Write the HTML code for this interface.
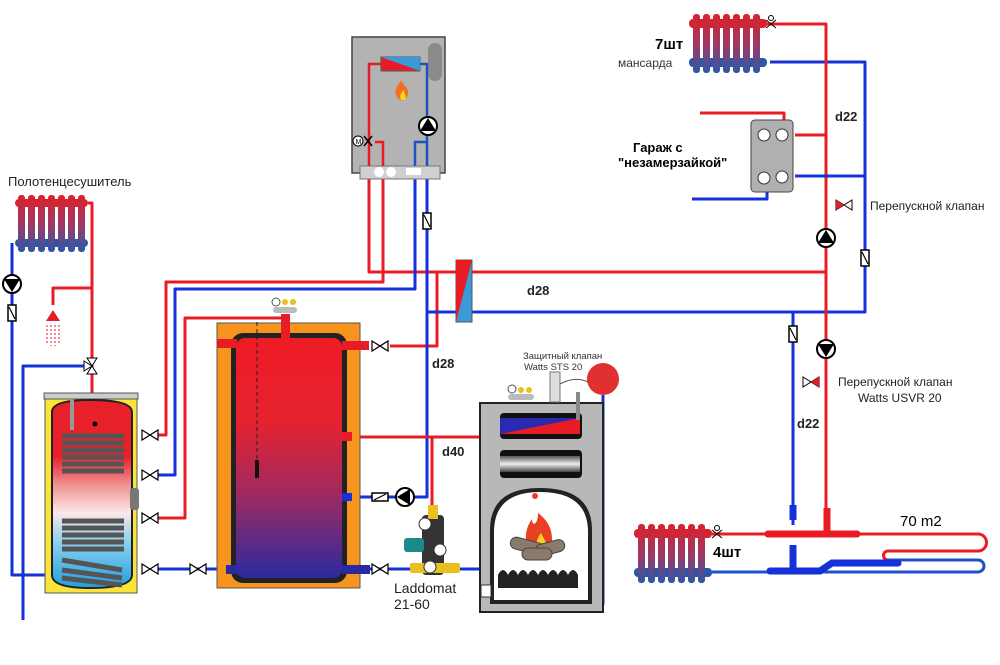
<!DOCTYPE html>
<html><head><meta charset="utf-8"><style>
html,body{margin:0;padding:0;background:#fff;width:1000px;height:665px;overflow:hidden}
svg{display:block}
text{font-family:"Liberation Sans","Noto Sans CJK SC",sans-serif}
</style></head><body>
<svg width="1000" height="665" viewBox="0 0 1000 665" xmlns="http://www.w3.org/2000/svg">
<defs>
<linearGradient id="rad" x1="0" y1="0" x2="0" y2="1"><stop offset="0" stop-color="#d9222a"/><stop offset="0.55" stop-color="#9a3a6a"/><stop offset="1" stop-color="#2a58a8"/></linearGradient>
<linearGradient id="buf" x1="0" y1="0" x2="0" y2="1"><stop offset="0" stop-color="#ee1c25"/><stop offset="0.35" stop-color="#e52230"/><stop offset="0.65" stop-color="#a02a60"/><stop offset="1" stop-color="#2a2aa0"/></linearGradient>
<linearGradient id="dhw" x1="0" y1="0" x2="0" y2="1"><stop offset="0" stop-color="#e8202a"/><stop offset="0.3" stop-color="#e8202a"/><stop offset="0.45" stop-color="#f09090"/><stop offset="0.6" stop-color="#fbe8e8"/><stop offset="0.75" stop-color="#8fd0f0"/><stop offset="1" stop-color="#1ea0e0"/></linearGradient>
<linearGradient id="metal" x1="0" y1="0" x2="0" y2="1"><stop offset="0" stop-color="#555"/><stop offset="0.5" stop-color="#eee"/><stop offset="1" stop-color="#444"/></linearGradient>
<g id="valve"><path d="M-8,-5 L8,5 L8,-5 L-8,5 Z" fill="#fff" stroke="#000" stroke-width="1.2"/></g>
<g id="pump"><circle r="9" fill="#fff" stroke="#000" stroke-width="2"/><path d="M0,-8 L8,5 L-8,5 Z" fill="#000"/></g>
<g id="pumpd"><circle r="9" fill="#fff" stroke="#000" stroke-width="2"/><path d="M0,8 L8,-5 L-8,-5 Z" fill="#000"/></g>
<g id="chk"><rect x="-4" y="-8" width="8" height="16" fill="#fff" stroke="#000" stroke-width="1.5"/><path d="M-3,-6 L3,6" stroke="#000" stroke-width="1.2"/></g>
<g id="chkh"><rect x="-8" y="-4" width="16" height="8" fill="#fff" stroke="#000" stroke-width="1.5"/><path d="M-6,3 L6,-3" stroke="#000" stroke-width="1.2"/></g>
</defs>

<g fill="none" stroke-width="3" stroke-linejoin="round">
<path d="M369,178 V272 H826" stroke="#e81c24"/>
<path d="M383,178 V282 H166 V435 H158" stroke="#e81c24"/>
<path d="M437,272 V346 H390" stroke="#e81c24"/>
<path d="M158,518 H185 V318 H285 V325" stroke="#e81c24"/>
<path d="M415,178 V289 H175 V475 H158" stroke="#1432d8"/>
<path d="M427,178 V312 H865 V62 H770" stroke="#1432d8"/>
<path d="M427,312 V497 H412" stroke="#1432d8"/>
<path d="M396,497 H347" stroke="#1432d8"/>
<path d="M347,437 H480" stroke="#e81c24"/>
<path d="M432,437 V510" stroke="#e81c24"/>
<path d="M158,569 H230" stroke="#1432d8"/>
<path d="M347,569 H480" stroke="#1432d8"/>
<path d="M603,395 V604 H596" stroke="#1432d8"/>
<path d="M765,24 H826 V530" stroke="#e81c24"/>
<path d="M793,312 V525" stroke="#1432d8"/>
<path d="M795,135 H826" stroke="#e81c24"/>
<path d="M784,128 V113 H700" stroke="#e81c24"/>
<path d="M795,176 H865" stroke="#1432d8"/>
<path d="M767,180 V199 H692" stroke="#1432d8"/>
<path d="M712,534 H978 a8.5,8.5 0 0 1 0,17 H888 a4.5,4.5 0 0 0 0,9" stroke="#e81c24"/>
<path d="M888,560 H978 a6,6 0 0 1 0,12 H712" stroke="#2050c8"/>
<path d="M88,203 H92 V393" stroke="#e81c24"/>
<path d="M92,288 H53 V305" stroke="#e81c24"/>
<path d="M12,243 V575 H45" stroke="#1432d8"/>
<path d="M86,366 H23 V620" stroke="#1432d8"/>
</g>
<path d="M768,534 H857" stroke="#e81c24" stroke-width="7" stroke-linecap="round"/>
<path d="M827,508 V534" stroke="#e81c24" stroke-width="7"/>
<path d="M770,571 H820 L832,563 H898" stroke="#1432d8" stroke-width="7" stroke-linecap="round" fill="none"/>
<path d="M793,505 V520 M793,545 V571" stroke="#1432d8" stroke-width="7"/>

<rect x="352" y="37" width="93" height="136" fill="#b3b3b3" stroke="#444" stroke-width="1.5"/>
<rect x="428" y="43" width="14" height="38" rx="7" fill="#8a8a8a"/>
<rect x="360" y="166" width="80" height="13" fill="#d0d0d0" stroke="#777"/>
<circle cx="379" cy="172" r="5" fill="#fff"/><circle cx="391" cy="172" r="5" fill="#fff"/>
<rect x="406" y="168" width="15" height="7" fill="#fff"/>
<path d="M369,166 V64 H381" fill="none" stroke-width="2.5" stroke="#e81c24"/>
<path d="M383,166 V142 H375" fill="none" stroke-width="2.5" stroke="#e81c24"/>
<path d="M427,166 V64 H420" fill="none" stroke-width="2.5" stroke="#2050c0"/>
<path d="M415,166 V142 H427" fill="none" stroke-width="2.5" stroke="#2050c0"/>
<rect x="381" y="57" width="39" height="14" fill="#e81c24" stroke="#555"/>
<path d="M381,57 H420 V71 Z" fill="#3a9ad8"/>
<path d="M400,100 c-8,-6 -4,-14 2,-20 c0,6 6,6 6,12 c0,6 -4,10 -8,8z" fill="#f07020"/>
<path d="M401,100 c-2,-4 0,-8 3,-10 c0,4 3,6 1,10z" fill="#ffd020"/>
<use href="#pump" x="428" y="126"/>
<circle cx="358" cy="141" r="5" fill="#fff" stroke="#000"/><text x="355.5" y="144" font-size="7">M</text>
<path d="M364,136 L372,146 M364,146 L372,136" stroke="#000" stroke-width="1.5"/>
<use href="#chk" x="427" y="221"/>

<rect x="456" y="260" width="16" height="62" fill="#3a9ad8" stroke="#555"/>
<path d="M456,260 H472 L456,322 Z" fill="#e81c24"/>

<rect x="217" y="323" width="143" height="265" fill="#f7941d" stroke="#555"/>
<rect x="231" y="333" width="116" height="250" rx="12" fill="#222"/>
<rect x="236" y="338" width="106" height="240" rx="9" fill="url(#buf)"/>
<rect x="217" y="339" width="20" height="9" fill="#e81c24"/>
<rect x="342" y="341" width="27" height="9" fill="#e81c24"/>
<rect x="342" y="432" width="10" height="9" fill="#e81c24"/>
<rect x="342" y="493" width="10" height="8" fill="#1432d8"/>
<rect x="226" y="565" width="12" height="9" fill="#2a2aa0"/>
<rect x="342" y="565" width="28" height="9" fill="#2a2aa0"/>
<rect x="281" y="314" width="9" height="25" fill="#e81c24"/>
<path d="M257,322 V470" stroke="#222" stroke-dasharray="4,3"/>
<rect x="255" y="460" width="4" height="18" fill="#111"/>
<rect x="273" y="307" width="24" height="6" rx="3" fill="#bbb"/>
<circle cx="276" cy="302" r="4" fill="#fff" stroke="#555"/><circle cx="285" cy="302" r="3" fill="#e8c020"/><circle cx="293" cy="302" r="3" fill="#e8c020"/>
<use href="#valve" x="380" y="346"/>
<use href="#valve" x="380" y="569"/>
<use href="#valve" x="198" y="569"/>
<use href="#chkh" x="380" y="497"/>
<g transform="translate(405,497) rotate(-90)"><use href="#pump"/></g>

<rect x="45" y="394" width="92" height="199" fill="#fbe33a" stroke="#555"/>
<rect x="44" y="393" width="94" height="6" fill="#ccc" stroke="#555"/>
<path d="M52,412 Q52,400 90,400 Q132,400 132,412 V575 Q132,588 90,588 Q52,588 52,575 Z" fill="url(#dhw)" stroke="#222" stroke-width="2"/>
<rect x="70" y="400" width="4" height="30" fill="#999"/>
<g fill="none" stroke="#555" stroke-width="5">
<path d="M62,436 H124 M62,443 H124 M62,450 H124 M62,457 H124 M62,464 H124 M62,471 H124"/>
<path d="M62,521 H124 M62,528 H124 M62,535 H124 M62,542 H124 M62,549 H124"/>
<path d="M62,560 L122,570 M62,570 L122,578 M62,578 L122,585"/>
</g>
<rect x="130" y="488" width="9" height="22" rx="3" fill="#777"/>
<circle cx="95" cy="424" r="2.5" fill="#000"/>
<use href="#valve" x="150" y="435"/>
<use href="#valve" x="150" y="475"/>
<use href="#valve" x="150" y="518"/>
<use href="#valve" x="150" y="569"/>

<g>
<rect x="15" y="199" width="73" height="8" rx="4" fill="#d9222a"/>
<rect x="15" y="239" width="73" height="8" rx="4" fill="#2a58a8"/>
<g fill="url(#rad)"><rect x="18" y="195" width="7" height="57" rx="3"/><rect x="28" y="195" width="7" height="57" rx="3"/><rect x="38" y="195" width="7" height="57" rx="3"/><rect x="48" y="195" width="7" height="57" rx="3"/><rect x="58" y="195" width="7" height="57" rx="3"/><rect x="68" y="195" width="7" height="57" rx="3"/><rect x="78" y="195" width="7" height="57" rx="3"/></g>
</g>
<use href="#pumpd" x="12" y="284"/>
<use href="#chk" x="12" y="313"/>
<path d="M46,321 L53,310 L60,321 Z" fill="#e81c24"/>
<path d="M47,325 V343 M51,325 V346 M55,325 V346 M59,325 V343" stroke="#e81c24" stroke-dasharray="2,2"/>
<g transform="translate(92,366) rotate(90)"><path d="M-8,-5 L8,5 L8,-5 L-8,5 Z" fill="#fff" stroke="#000"/></g>
<path d="M92,366 L84,361 L84,371 Z" fill="#fff" stroke="#000"/>

<rect x="480" y="403" width="123" height="209" fill="#b8b8b8" stroke="#222" stroke-width="2"/>
<rect x="500" y="413" width="82" height="26" fill="#111" rx="4"/>
<rect x="500" y="418" width="80" height="16" fill="#2a2ab0"/>
<path d="M500,434 L580,418 V434 Z" fill="#e81c24"/>
<rect x="500" y="450" width="82" height="28" fill="#111" rx="4"/>
<rect x="500" y="456" width="80" height="16" fill="url(#metal)"/>
<path d="M490,604 V530 Q490,488 540,488 Q592,488 592,530 V604 Z" fill="#222"/>
<path d="M494,600 V532 Q494,492 540,492 Q588,492 588,532 V600 Z" fill="#fff"/>
<rect x="481" y="585" width="10" height="12" fill="#fff" stroke="#333"/>
<path d="M540,555 c-16,-4 -18,-22 -8,-36 c0,8 6,6 6,-6 c8,6 14,14 14,26 c0,10 -6,16 -12,16z" fill="#e84020"/>
<path d="M541,553 c-6,-4 -6,-12 0,-20 c4,8 8,12 4,20z" fill="#ffd020"/>
<circle cx="535" cy="496" r="3" fill="#e84020"/>
<g fill="#8a7a6a" stroke="#444"><rect x="510" y="540" width="35" height="12" rx="6" transform="rotate(15 527 546)"/><rect x="535" y="542" width="30" height="12" rx="6" transform="rotate(-15 550 548)"/><rect x="522" y="548" width="30" height="12" rx="6"/></g>
<path d="M498,575 q5,-10 10,0 q5,-10 10,0 q5,-10 10,0 q5,-10 10,0 q5,-10 10,0 q5,-10 10,0 q5,-10 10,0 q5,-10 10,0 V588 H498Z" fill="#222"/>
<rect x="508" y="394" width="26" height="6" rx="3" fill="#bbb"/>
<circle cx="512" cy="389" r="4" fill="#fff" stroke="#555"/><circle cx="521" cy="390" r="3" fill="#e8c020"/><circle cx="529" cy="390" r="3" fill="#e8c020"/>
<rect x="550" y="372" width="10" height="30" fill="#ddd" stroke="#777"/>
<circle cx="603" cy="379" r="16" fill="#e03030"/>
<path d="M560,384 Q575,376 588,382" stroke="#555" fill="none"/>
<rect x="576" y="392" width="4" height="28" fill="#888"/>
<text x="523" y="359" font-size="9.5" fill="#333">Защитный клапан</text>
<text x="524" y="370" font-size="9.5" fill="#333">Watts STS 20</text>

<rect x="422" y="515" width="22" height="60" rx="4" fill="#333"/>
<rect x="404" y="538" width="20" height="14" rx="3" fill="#1a8a8a"/>
<rect x="428" y="505" width="10" height="14" fill="#e8c020"/>
<rect x="410" y="563" width="50" height="10" rx="2" fill="#e8c020"/>
<circle cx="425" cy="524" r="6" fill="#fff" stroke="#333"/>
<circle cx="440" cy="550" r="6" fill="#fff" stroke="#333"/>
<circle cx="430" cy="567" r="6" fill="#fff" stroke="#333"/>
<text x="394" y="593" font-size="14" fill="#222">Laddomat</text>
<text x="394" y="609" font-size="14" fill="#222">21-60</text>

<g>
<rect x="689" y="19" width="78" height="9" rx="4" fill="#d9222a"/>
<rect x="689" y="58" width="78" height="9" rx="4" fill="#2a58a8"/>
<g fill="url(#rad)"><rect x="693" y="14" width="7" height="59" rx="3"/><rect x="703" y="14" width="7" height="59" rx="3"/><rect x="713" y="14" width="7" height="59" rx="3"/><rect x="723" y="14" width="7" height="59" rx="3"/><rect x="733" y="14" width="7" height="59" rx="3"/><rect x="743" y="14" width="7" height="59" rx="3"/><rect x="753" y="14" width="7" height="59" rx="3"/></g>
</g>
<path d="M766,20 L776,28 M766,28 L776,20" stroke="#000"/><circle cx="771" cy="18" r="2.5" fill="#fff" stroke="#000"/>
<text x="655" y="49" font-size="15" font-weight="bold" fill="#000">7шт</text>
<text x="618" y="67" font-size="12" fill="#333">мансарда</text>

<rect x="751" y="120" width="42" height="72" rx="4" fill="#b0b0b0" stroke="#444"/>
<ellipse cx="764" cy="135" rx="6" ry="6" fill="#fff" stroke="#333"/><ellipse cx="782" cy="135" rx="6" ry="6" fill="#fff" stroke="#333"/>
<ellipse cx="764" cy="178" rx="6" ry="6" fill="#fff" stroke="#333"/><ellipse cx="782" cy="177" rx="6" ry="6" fill="#fff" stroke="#333"/>
<text x="633" y="152" font-size="13" font-weight="bold" fill="#000">Гараж с</text>
<text x="618" y="167" font-size="13" font-weight="bold" fill="#000">"незамерзайкой"</text>

<use href="#pump" x="826" y="238"/>
<use href="#pumpd" x="826" y="349"/>
<use href="#chk" x="865" y="258"/>
<use href="#chk" x="793" y="334"/>
<path d="M836,200 L852,210 L852,200 L836,210 Z" fill="#fff" stroke="#000"/><path d="M836,200 L844,205 L836,210Z" fill="#e81c24"/>
<path d="M803,377 L819,387 L819,377 L803,387 Z" fill="#fff" stroke="#000"/><path d="M819,377 L811,382 L819,387Z" fill="#e81c24"/>
<text x="870" y="210" font-size="12" fill="#222">Перепускной клапан</text>
<text x="838" y="386" font-size="12" fill="#222">Перепускной клапан</text>
<text x="858" y="402" font-size="12" fill="#222">Watts USVR 20</text>
<text x="835" y="121" font-size="13" font-weight="bold" fill="#222">d22</text>
<text x="797" y="428" font-size="13" font-weight="bold" fill="#222">d22</text>
<text x="527" y="295" font-size="13" font-weight="bold" fill="#222">d28</text>
<text x="432" y="368" font-size="13" font-weight="bold" fill="#222">d28</text>
<text x="442" y="456" font-size="13" font-weight="bold" fill="#222">d40</text>
<text x="8" y="186" font-size="13" fill="#222">Полотенцесушитель</text>

<g>
<rect x="634" y="529" width="78" height="9" rx="4" fill="#d9222a"/>
<rect x="634" y="568" width="78" height="9" rx="4" fill="#2a58a8"/>
<g fill="url(#rad)"><rect x="638" y="524" width="7" height="59" rx="3"/><rect x="648" y="524" width="7" height="59" rx="3"/><rect x="658" y="524" width="7" height="59" rx="3"/><rect x="668" y="524" width="7" height="59" rx="3"/><rect x="678" y="524" width="7" height="59" rx="3"/><rect x="688" y="524" width="7" height="59" rx="3"/><rect x="698" y="524" width="7" height="59" rx="3"/></g>
</g>
<path d="M712,530 L722,538 M712,538 L722,530" stroke="#000"/><circle cx="717" cy="528" r="2.5" fill="#fff" stroke="#000"/>
<text x="713" y="557" font-size="15" font-weight="bold" fill="#000">4шт</text>
<text x="900" y="526" font-size="15" fill="#000">70 m2</text>
</svg>
</body></html>
